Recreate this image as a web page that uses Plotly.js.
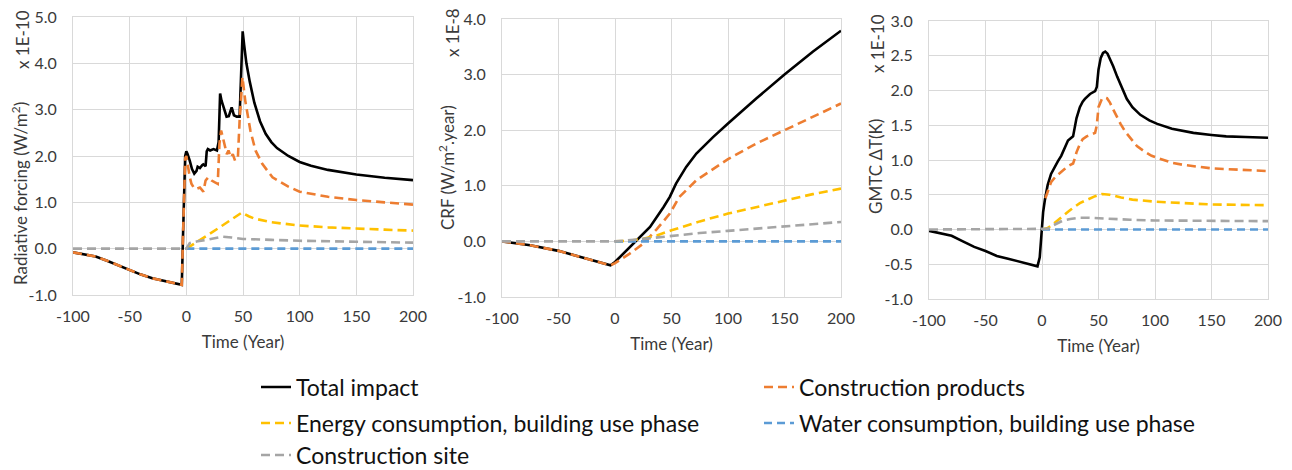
<!DOCTYPE html>
<html>
<head>
<meta charset="utf-8">
<script src="https://cdn.plot.ly/plotly-3.0.1.min.js"></script>
<style>html,body{margin:0;padding:0;background:#fff;}#chart{width:1292px;height:470px;}</style>
</head>
<body>
<div id="chart"></div>
<script>
// ---------- Series names ----------
const seriesNames = ["Total impact", "Construction products", "Energy consumption, building use phase", "Water consumption, building use phase", "Construction site"];

// ---------- Axis ticks ----------
const xTickVals = [-100, -50, 0, 50, 100, 150, 200];
const xTickText = ["-100", "-50", "0", "50", "100", "150", "200"];
const rfTickVals = [-1, 0, 1, 2, 3, 4, 5];
const rfTickText = ["-1.0", "0.0", "1.0", "2.0", "3.0", "4.0", "5.0"];
const crfTickVals = [-1, 0, 1, 2, 3, 4];
const crfTickText = ["-1.0", "0.0", "1.0", "2.0", "3.0", "4.0"];
const gmtcTickVals = [-1, -0.5, 0, 0.5, 1, 1.5, 2, 2.5, 3];
const gmtcTickText = ["-1.0", "-0.5", "0.0", "0.5", "1.0", "1.5", "2.0", "2.5", "3.0"];

// ---------- Panel 1: Radiative forcing (x 1E-10 W/m2) ----------
const rfTotalT = [-100,-90,-80,-70,-60,-50,-40,-30,-20,-10,-4,-3,-2,-1,0,1,3,5,7,9,10,12,14,15,17,18,19,21,24,27,28.5,29.8,31,33,35.5,37.5,40,42,44.5,47,48,49.7,51,53,56,60,65,70,75,80,90,100,110,125,150,175,200];
const rfTotalV = [-0.08,-0.12,-0.17,-0.26,-0.36,-0.46,-0.56,-0.64,-0.70,-0.75,-0.78,0.2,1.5,2.0,2.1,2.05,1.9,1.72,1.62,1.68,1.77,1.74,1.8,1.82,1.78,2.1,2.15,2.12,2.15,2.12,2.3,3.35,3.2,3.05,2.85,2.86,3.05,2.88,2.85,2.85,3.6,4.69,4.4,4.0,3.6,3.15,2.75,2.48,2.3,2.17,2.0,1.87,1.79,1.7,1.6,1.53,1.48];
const rfProdT = [-100,-90,-80,-70,-60,-50,-40,-30,-20,-10,-4,-3,-2,-1,0,1.5,3,4.5,7,9,12,15,17,19.3,22.3,25.3,27.7,29.2,30.7,33.6,35.7,37.2,39.3,41,43,45.5,47,49.5,52,56.5,61,67,76,90,100,125,150,175,200];
const rfProdV = [-0.08,-0.12,-0.17,-0.26,-0.36,-0.46,-0.56,-0.64,-0.70,-0.75,-0.78,0.2,1.5,1.95,2.0,1.75,1.55,1.4,1.3,1.29,1.32,1.23,1.47,1.54,1.47,1.43,1.4,2.26,2.55,2.26,2.04,2.12,1.97,2.04,1.9,1.97,2.76,3.7,3.19,2.55,2.12,1.83,1.54,1.34,1.23,1.12,1.05,1.0,0.95];
const rfEnergyT = [0,10,20,30,40,49,55,60,75,100,125,150,175,200];
const rfEnergyV = [0,0.15,0.31,0.47,0.63,0.78,0.7,0.65,0.57,0.5,0.46,0.43,0.41,0.39];
const rfWaterT = [0,200];
const rfWaterV = [0,0];
const rfSiteT = [-100,0,3,10,20,32,40,50,75,100,150,200];
const rfSiteV = [0,0,0.12,0.16,0.2,0.26,0.24,0.21,0.19,0.17,0.15,0.13];

// ---------- Panel 2: CRF (x 1E-8 W/m2.year) ----------
const crfTotalT = [-100,-75,-50,-25,-4,0,13,25,31,43,48.5,54,63,72,87,100,125,150,175,200];
const crfTotalV = [0,-0.07,-0.17,-0.31,-0.43,-0.37,-0.1,0.14,0.26,0.62,0.80,1.04,1.34,1.58,1.88,2.12,2.57,3.0,3.41,3.79];
const crfProdT = [-100,-75,-50,-25,-4,0,13,25,37,48.5,57,72,100,125,150,175,200];
const crfProdV = [0,-0.07,-0.17,-0.31,-0.43,-0.39,-0.22,-0.04,0.22,0.5,0.8,1.1,1.48,1.76,2.0,2.25,2.48];
const crfEnergyT = [0,12,25,37,50,75,100,125,150,175,200];
const crfEnergyV = [0,0.011,0.049,0.107,0.2,0.36,0.5,0.62,0.74,0.85,0.95];
const crfWaterT = [0,200];
const crfWaterV = [0,0];
const crfSiteT = [-100,0,25,50,75,100,150,200];
const crfSiteV = [0,0,0.045,0.1,0.15,0.19,0.27,0.35];

// ---------- Panel 3: GMTC dT (x 1E-10 K) ----------
const gmtcTotalT = [-100,-90,-80,-70,-60,-50,-40,-30,-20,-10,-4,-2,-0.5,1,2.5,5,8,11,14,17,20,23,27.5,29,30.5,33.5,36,38,42.5,47,48.5,50,52,54,56,58,60.5,63,66.5,70,75,80,87,95,102,115,134,150,163,180,200];
const gmtcTotalV = [-0.02,-0.05,-0.09,-0.17,-0.25,-0.31,-0.38,-0.42,-0.46,-0.5,-0.53,-0.4,-0.05,0.25,0.42,0.64,0.8,0.9,0.98,1.06,1.18,1.28,1.34,1.45,1.6,1.76,1.84,1.88,1.95,1.99,2.05,2.3,2.47,2.54,2.56,2.53,2.45,2.35,2.2,2.06,1.88,1.76,1.65,1.57,1.52,1.45,1.39,1.36,1.34,1.33,1.32];
const gmtcProdT = [3,5,8,12,16,20,24,27.5,29,30.5,33.5,36,39.5,44,47,48.5,50,53,55.5,57.5,60,62,66,69.5,74,78.4,84,90,97,104,115,125,150,175,200];
const gmtcProdV = [0.45,0.55,0.68,0.76,0.82,0.87,0.92,0.95,1.02,1.11,1.23,1.3,1.34,1.37,1.39,1.5,1.76,1.88,1.9,1.89,1.83,1.76,1.62,1.52,1.4,1.31,1.2,1.13,1.06,1.02,0.96,0.93,0.88,0.86,0.84];
const gmtcEnergyT = [0,5,10,18.6,25,33.5,40,47,53,60,70,80,100,125,150,175,200];
const gmtcEnergyV = [0,0.02,0.08,0.2,0.28,0.38,0.43,0.48,0.51,0.5,0.46,0.43,0.4,0.38,0.36,0.355,0.35];
const gmtcWaterT = [0,200];
const gmtcWaterV = [0,0];
const gmtcSiteT = [-100,0,5,10,18.6,25,33.5,40,50,60,78,100,150,200];
const gmtcSiteV = [0,0,0.01,0.06,0.13,0.15,0.17,0.17,0.16,0.155,0.14,0.13,0.125,0.12];

// ---------- Styles ----------
const colors = ["#000000", "#ED7D31", "#FFC000", "#5B9BD5", "#A5A5A5"];
const dashes = ["solid", "9px,5px", "9px,5px", "8px,5px", "9px,5px"];
const FONT = "Lato, 'Open Sans', sans-serif";
const legendIds = ["legend", "legend2", "legend3", "legend4", "legend5"];

const panels = [
  {xa: "x", ya: "y", data: [[rfTotalT, rfTotalV], [rfProdT, rfProdV], [rfEnergyT, rfEnergyV], [rfWaterT, rfWaterV], [rfSiteT, rfSiteV]]},
  {xa: "x2", ya: "y2", data: [[crfTotalT, crfTotalV], [crfProdT, crfProdV], [crfEnergyT, crfEnergyV], [crfWaterT, crfWaterV], [crfSiteT, crfSiteV]]},
  {xa: "x3", ya: "y3", data: [[gmtcTotalT, gmtcTotalV], [gmtcProdT, gmtcProdV], [gmtcEnergyT, gmtcEnergyV], [gmtcWaterT, gmtcWaterV], [gmtcSiteT, gmtcSiteV]]}
];

const traces = [];
panels.forEach((p, pi) => {
  p.data.forEach((d, si) => {
    traces.push({
      type: "scatter", mode: "lines",
      x: d[0], y: d[1],
      xaxis: p.xa, yaxis: p.ya,
      name: seriesNames[si],
      legend: legendIds[si],
      legendgroup: "s" + si,
      showlegend: pi === 0,
      line: {color: colors[si], width: 2.6, dash: dashes[si]},
      hoverinfo: "x+y+name"
    });
  });
});

const W = 1292, H = 470;
const MT = 17, MB = 171;
const PH = H - MT - MB;
function xd(a, b) { return [a / W, b / W]; }
function yd(top, bot) { return [(H - MB - bot) / PH, (H - MB - top) / PH]; }
function py(px) { return (H - MB - px) / PH; }

function xAxis(dom, anchor) {
  return {
    domain: dom, anchor: anchor, range: [-100, 200],
    tickmode: "array", tickvals: xTickVals, ticktext: xTickText,
    showgrid: true, gridcolor: "#d9d9d9", gridwidth: 1,
    showline: true, linecolor: "#d9d9d9", linewidth: 1, mirror: true,
    zeroline: false, ticks: "", ticklabelstandoff: 7,
    tickfont: {family: FONT, size: 16, color: "#3a3a3a"},
    title: {text: "Time (Year)", font: {family: FONT, size: 17, color: "#3a3a3a"}, standoff: 11},
    automargin: false, fixedrange: true
  };
}
function yAxis(dom, anchor, range, tv, tt) {
  return {
    domain: dom, anchor: anchor, range: range,
    tickmode: "array", tickvals: tv, ticktext: tt,
    showgrid: true, gridcolor: "#d9d9d9", gridwidth: 1,
    showline: true, linecolor: "#d9d9d9", linewidth: 1, mirror: true,
    zeroline: false, ticks: "", ticklabelstandoff: 12,
    tickfont: {family: FONT, size: 16, color: "#3a3a3a"},
    automargin: false, fixedrange: true
  };
}

const titleFont = {family: FONT, size: 17, color: "#3a3a3a"};
const annotations = [
  {text: "Radiative forcing (W/m<sup>2</sup>)", x: 19, y: 194},
  {text: "CRF (W/m<sup>2</sup>.year)", x: 447, y: 168},
  {text: "GMTC ΔT(K)", x: 875, y: 167},
  {text: "x 1E-10", x: 23, y: 40},
  {text: "x 1E-8", x: 453, y: 33},
  {text: "x 1E-10", x: 878, y: 44}
].map(a => Object.assign({}, a, {
  x: a.x / W, y: py(a.y),
  xref: "paper", yref: "paper", xanchor: "center", yanchor: "middle",
  textangle: -90, showarrow: false, font: titleFont
}));

const legendPos = [[256, 387], [759, 387], [256, 423], [759, 423], [256, 455]];
function legendObj(i) {
  return {
    orientation: "h", x: legendPos[i][0] / W, xanchor: "left",
    y: py(legendPos[i][1]), yanchor: "middle",
    font: {family: FONT, size: 23, color: "#111"},
    bgcolor: "rgba(0,0,0,0)", borderwidth: 0
  };
}

const layout = {
  width: W, height: H,
  margin: {l: 0, r: 0, t: MT, b: MB, pad: 0, autoexpand: false},
  paper_bgcolor: "#ffffff", plot_bgcolor: "#ffffff",
  font: {family: FONT, color: "#222"},
  showlegend: true,
  legend: legendObj(0), legend2: legendObj(1), legend3: legendObj(2), legend4: legendObj(3), legend5: legendObj(4),
  xaxis: xAxis(xd(73, 413), "y"),
  yaxis: yAxis(yd(17, 295), "x", [-1, 5], rfTickVals, rfTickText),
  xaxis2: xAxis(xd(502, 841), "y2"),
  yaxis2: yAxis(yd(19, 297), "x2", [-1, 4], crfTickVals, crfTickText),
  xaxis3: xAxis(xd(929, 1268), "y3"),
  yaxis3: yAxis(yd(21, 299), "x3", [-1, 3], gmtcTickVals, gmtcTickText),
  annotations: annotations
};

Plotly.newPlot("chart", traces, layout, {displayModeBar: false, staticPlot: true});
</script>
</body>
</html>
